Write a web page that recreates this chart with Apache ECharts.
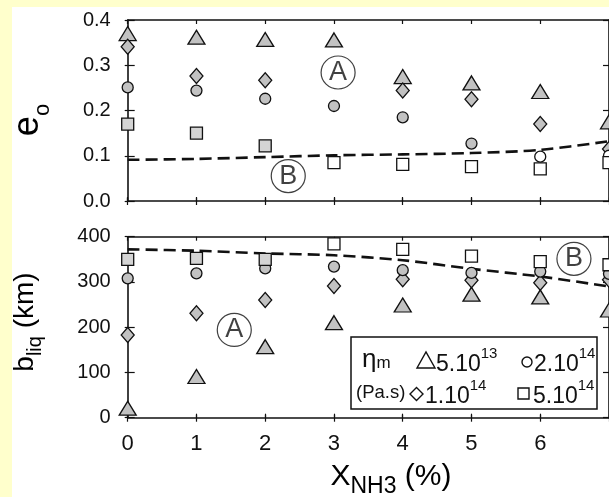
<!DOCTYPE html>
<html><head><meta charset="utf-8">
<script src="https://cdn.jsdelivr.net/npm/echarts@6/dist/echarts.min.js"></script>
<style>html,body{margin:0;padding:0;background:#fff}#c{width:609px;height:497px}</style>
</head><body><div id="c"></div>
<script>
// ---- data ----
const xNH3 = [0, 1, 2, 3, 4, 5, 6, 7];                 // X_NH3 (%)
const e0TickLabels = ['0.0', '0.1', '0.2', '0.3', '0.4'];
const bliqTickLabels = ['0', '100', '200', '300', '400'];

// e0 (top panel) for each mantle viscosity
const e0_5e13 = [0.370, 0.362, 0.357, 0.356, 0.275, 0.261, 0.242, 0.175];
const e0_1e14 = [0.341, 0.276, 0.267, null, 0.244, 0.225, 0.170, 0.115];
const e0_2e14 = [0.251, 0.244, 0.226, 0.210, 0.185, 0.127, 0.098, 0.100];
const e0_5e14 = [0.170, 0.150, 0.122, 0.085, 0.081, 0.076, 0.071, 0.085];
const e0_B    = [0.091, 0.093, 0.097, 0.101, 0.103, 0.106, 0.113, 0.132];

// b_liq (km) (bottom panel)
const bliq_5e13 = [21, 91, 157, 210, 249, 273, 267, 238];
const bliq_1e14 = [183, 231, 260, 291, 306, 304, 298, 305];
const bliq_2e14 = [308, 319, 330, 334, 326, 320, 323, 318];
const bliq_5e14 = [350, 352, 350, 384, 372, 357, 345, 338];
const bliq_B    = [372, 369, 363, 359, 348, 329, 312, 290];

// circled regime labels: [x, y]
const e0Regimes = [['A', 3.06, 0.284], ['B', 2.335, 0.055]];
const bliqRegimes = [['A', 1.55, 194], ['B', 6.49, 351]];

// ---- chart ----
const FONT = 'Liberation Sans';
const INK = '#111';
const GRAY = '#c2c2c2';

function pts(vals) {
  const out = [];
  vals.forEach((v, i) => { if (v != null) out.push([xNH3[i], v]); });
  return out;
}
function xAxesFor(gi, labels) {
  const base = { gridIndex: gi, type: 'value', min: 0, max: 7, interval: 1, splitLine: { show: false } };
  const line = { show: true, onZero: false, lineStyle: { color: INK, width: 1.6 } };
  const tick = (inside, len) => ({ show: true, inside, length: len, lineStyle: { color: INK, width: 1.2 } });
  return [
    Object.assign({}, base, { position: 'bottom', axisLine: line, axisTick: tick(true, 4),
      axisLabel: { show: labels, showMaxLabel: false, margin: 15, fontSize: 22, color: INK, fontFamily: FONT,
        formatter: v => xNH3.indexOf(v) >= 0 ? String(v) : '' } }),
    Object.assign({}, base, { position: 'bottom', axisLine: { show: false }, axisTick: tick(false, 4), axisLabel: { show: false } }),
    Object.assign({}, base, { position: 'top', axisLine: line, axisTick: tick(true, 4), axisLabel: { show: false } }),
    Object.assign({}, base, { position: 'top', axisLine: { show: false }, axisTick: tick(false, 3), axisLabel: { show: false } })
  ];
}
function yAxesFor(gi, max, interval, labels) {
  const base = { gridIndex: gi, type: 'value', min: 0, max, interval, splitLine: { show: false } };
  const line = { show: true, onZero: false, lineStyle: { color: INK, width: 1.6 } };
  const tick = (inside, len) => ({ show: true, inside, length: len, lineStyle: { color: INK, width: 1.2 } });
  return [
    Object.assign({}, base, { position: 'left', axisLine: line, axisTick: tick(true, 7),
      axisLabel: { margin: 17, fontSize: 20, color: INK, fontFamily: FONT,
        formatter: v => labels[Math.round(v / interval)] } }),
    Object.assign({}, base, { position: 'left', axisLine: { show: false }, axisTick: tick(false, 3), axisLabel: { show: false } }),
    Object.assign({}, base, { position: 'right', axisLine: line, axisTick: tick(true, 6), axisLabel: { show: false } })
  ];
}
function marks(name, vals, symbol, size, xi, yi, colorFn) {
  return {
    name, type: 'scatter', xAxisIndex: xi, yAxisIndex: yi, symbol, symbolSize: size, clip: false,
    data: pts(vals), z: 3,
    itemStyle: { color: colorFn || GRAY, borderColor: INK, borderWidth: 1.3, opacity: 1 }
  };
}
function dashed(vals, xi, yi) {
  return {
    type: 'line', xAxisIndex: xi, yAxisIndex: yi, data: pts(vals), smooth: 0.3, showSymbol: false, symbol: 'none',
    lineStyle: { color: INK, width: 2.6, type: [12, 6] }, z: 2, silent: true
  };
}
function regimes(list, xi, yi) {
  return {
    type: 'scatter', xAxisIndex: xi, yAxisIndex: yi, symbol: 'circle', symbolSize: [34, 33], clip: false, z: 4,
    data: list.map(r => ({ name: r[0], value: [r[1], r[2]] })),
    itemStyle: { color: 'rgba(255,255,255,0)', borderColor: INK, borderWidth: 1.2 },
    label: { show: true, position: 'inside', formatter: p => p.name, fontSize: 27, color: INK, fontFamily: FONT }
  };
}
const squareFill = p => (p.data[0] < 3 ? '#d4d4d4' : '#ffffff');
const circleFillTop = p => (p.data[0] >= 6 ? '#ffffff' : GRAY);

const tri = [17, 14], dia = [13, 15], cir = 11, sq = 12;

const series = [
  dashed(e0_B, 0, 0),
  marks('5.10^13', e0_5e13, 'triangle', tri, 0, 0),
  marks('1.10^14', e0_1e14, 'diamond', dia, 0, 0),
  marks('2.10^14', e0_2e14, 'circle', cir, 0, 0, circleFillTop),
  marks('5.10^14', e0_5e14, 'rect', sq, 0, 0, squareFill),
  regimes(e0Regimes, 0, 0),
  dashed(bliq_B, 4, 3),
  marks('5.10^13', bliq_5e13, 'triangle', tri, 4, 3),
  marks('1.10^14', bliq_1e14, 'diamond', dia, 4, 3),
  marks('2.10^14', bliq_2e14, 'circle', cir, 4, 3),
  marks('5.10^14', bliq_5e14, 'rect', sq, 4, 3, squareFill),
  regimes(bliqRegimes, 4, 3)
];

const txt = (x, y, text, rich, extra) => Object.assign({
  type: 'text', x, y, z: 10,
  style: { text, rich, fill: INK, fontFamily: FONT, align: 'left', verticalAlign: 'middle' }
}, extra || {});
const supRich = {
  n: { fontSize: 23, fontFamily: FONT, color: INK, lineHeight: 30, verticalAlign: 'bottom' },
  s: { fontSize: 15, fontFamily: FONT, color: INK, verticalAlign: 'top', lineHeight: 15 }
};

const graphic = [
  { type: 'rect', shape: { x: 0, y: 0, width: 609, height: 7 }, style: { fill: '#ffffcc' }, z: 0 },
  { type: 'rect', shape: { x: 0, y: 0, width: 12, height: 497 }, style: { fill: '#ffffcc' }, z: 0 },
  // axis titles
  { type: 'text', x: 32, y: 120, rotation: Math.PI / 2, z: 10,
    style: { text: '{m|e}{s|o}', align: 'center', verticalAlign: 'middle',
      rich: { m: { fontSize: 36, fontFamily: FONT, color: INK, padding: [0, 0, 8, 0], verticalAlign: 'bottom' },
              s: { fontSize: 22, fontFamily: FONT, color: INK, verticalAlign: 'bottom' } } } },
  { type: 'text', x: 28, y: 322, rotation: Math.PI / 2, z: 10,
    style: { text: '{m|b}{s|liq}{m| (km)}', align: 'center', verticalAlign: 'middle',
      rich: { m: { fontSize: 28, fontFamily: FONT, color: INK, padding: [0, 0, 6, 0], verticalAlign: 'bottom' },
              s: { fontSize: 20, fontFamily: FONT, color: INK, verticalAlign: 'bottom' } } } },
  { type: 'text', x: 391, y: 480, z: 10,
    style: { text: '{m|X}{s|NH3}{m| (%)}', align: 'center', verticalAlign: 'middle',
      rich: { m: { fontSize: 30, fontFamily: FONT, color: INK, padding: [0, 0, 7, 0], verticalAlign: 'bottom' },
              s: { fontSize: 23, fontFamily: FONT, color: INK, verticalAlign: 'bottom' } } } },
  // legend box
  { type: 'rect', shape: { x: 351, y: 337, width: 246, height: 72 }, style: { fill: '#fff', stroke: INK, lineWidth: 1.5 }, z: 9 },
  txt(362, 360, '{a|η}{b|m}', { a: { fontSize: 26, fontFamily: FONT, color: INK, verticalAlign: 'bottom' },
                                  b: { fontSize: 17, fontFamily: FONT, color: INK, verticalAlign: 'bottom', padding: [0, 0, 1, 0] } }),
  { type: 'polygon', shape: { points: [[417, 368], [435, 368], [426, 352]] }, style: { fill: '#fff', stroke: INK, lineWidth: 1.4 }, z: 10 },
  txt(436, 361, '{n|5.10}{s|13}', supRich),
  { type: 'circle', shape: { cx: 527, cy: 362, r: 5 }, style: { fill: '#fff', stroke: INK, lineWidth: 1.4 }, z: 10 },
  txt(534, 361, '{n|2.10}{s|14}', supRich),
  txt(356, 393, '(Pa.s)', null, { style: { text: '(Pa.s)', fill: INK, fontFamily: FONT, fontSize: 18.5, align: 'left', verticalAlign: 'middle' } }),
  { type: 'polygon', shape: { points: [[410, 394], [416.5, 387.5], [423, 394], [416.5, 400.5]] }, style: { fill: '#fff', stroke: INK, lineWidth: 1.4 }, z: 10 },
  txt(425, 393, '{n|1.10}{s|14}', supRich),
  { type: 'rect', shape: { x: 518, y: 388, width: 11, height: 11 }, style: { fill: '#fff', stroke: INK, lineWidth: 1.4 }, z: 10 },
  txt(533, 393, '{n|5.10}{s|14}', supRich)
];

const chart = echarts.init(document.getElementById('c'), null, { renderer: 'canvas' });
chart.setOption({
  animation: false,
  backgroundColor: '#ffffff',
  grid: [
    { left: 127.7, top: 20, width: 486.5, height: 181 },
    { left: 127.7, top: 236.7, width: 486.5, height: 181 }
  ],
  xAxis: xAxesFor(0, false).concat(xAxesFor(1, true)),
  yAxis: yAxesFor(0, 0.4, 0.1, e0TickLabels).concat(yAxesFor(1, 400, 100, bliqTickLabels)),
  series,
  graphic
});
</script></body></html>
